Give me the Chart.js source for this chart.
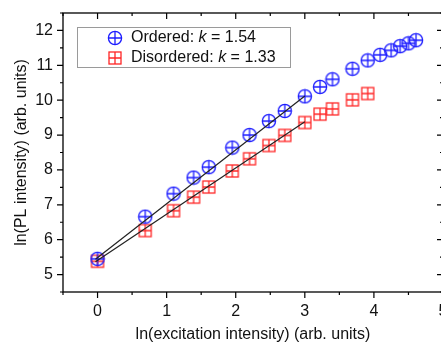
<!DOCTYPE html>
<html>
<head>
<meta charset="utf-8">
<script src="https://cdn.jsdelivr.net/npm/chart.js@4/dist/chart.umd.min.js"></script>
<style>
  html, body { margin:0; padding:0; background:#fff; }
  #wrap { width:441px; height:347px; overflow:hidden; position:relative; }
</style>
</head>
<body>
<div id="wrap"><canvas id="c" width="452" height="347" style="width:452px;height:347px"></canvas></div>
<script>
// ln(excitation) values
const orderedX = [0, 0.69, 1.10, 1.39, 1.61, 1.95, 2.20, 2.48, 2.71, 3.00, 3.22, 3.40, 3.69, 3.91, 4.09, 4.25, 4.38, 4.50, 4.61];
const orderedY = [5.45, 6.66, 7.32, 7.78, 8.08, 8.64, 9.00, 9.40, 9.69, 10.11, 10.38, 10.60, 10.90, 11.14, 11.30, 11.43, 11.55, 11.63, 11.72];
const disorderedX = [0, 0.69, 1.10, 1.39, 1.61, 1.95, 2.20, 2.48, 2.71, 3.00, 3.22, 3.40, 3.69, 3.91];
const disorderedY = [5.38, 6.26, 6.83, 7.22, 7.51, 7.97, 8.32, 8.70, 8.99, 9.36, 9.60, 9.75, 10.01, 10.19];

// fitted lines (end points)
const orderedFitX = [-0.03, 3.0];
const orderedFitY = [5.44, 10.12];
const disorderedFitX = [-0.03, 3.0];
const disorderedFitY = [5.37, 9.38];

const xTicks = [0, 1, 2, 3, 4, 5];
const xMinor = [-0.5, 0.5, 1.5, 2.5, 3.5, 4.5];
const yTicks = [5, 6, 7, 8, 9, 10, 11, 12];
const yMinor = [4.5, 5.5, 6.5, 7.5, 8.5, 9.5, 10.5, 11.5, 12.5];

const legendItems = [
  {name: "Ordered: ", k: "1.54", style: "circle"},
  {name: "Disordered: ", k: "1.33", style: "square"}
];

const FONT = "'Liberation Sans', Arial, sans-serif";
const BLUE = "#1c1cff", RED = "#ff2626";

function marker(style, color){
  const s = 16, c = document.createElement("canvas");
  c.width = s; c.height = s;
  const g = c.getContext("2d");
  g.strokeStyle = color; g.lineWidth = 1.3;
  if(style==="circle"){
    g.beginPath(); g.arc(8, 8, 6.6, 0, Math.PI*2); g.stroke();
    g.beginPath(); g.moveTo(1.4, 8); g.lineTo(14.6, 8); g.moveTo(8, 1.4); g.lineTo(8, 14.6); g.stroke();
  } else {
    g.strokeRect(2, 2, 12, 12);
    g.beginPath(); g.moveTo(2, 8); g.lineTo(14, 8); g.moveTo(8, 2); g.lineTo(8, 14); g.stroke();
  }
  return c;
}
const circleImg = marker("circle", BLUE);
const squareImg = marker("square", RED);

const pts = (xs, ys) => xs.map((x,i)=>({x:x, y:ys[i]}));

// box, ticks and legend
const framePlugin = {
  id: "frame",
  afterDraw(chart){
    const {ctx, chartArea:a, scales:{x, y}} = chart;
    ctx.save();
    ctx.strokeStyle = "#000"; ctx.lineWidth = 1.3;
    ctx.strokeRect(a.left, a.top, a.right-a.left, a.bottom-a.top);
    ctx.lineWidth = 1.2;
    ctx.beginPath();
    const tx = (v, len) => {
      const px = x.getPixelForValue(v);
      ctx.moveTo(px, a.bottom); ctx.lineTo(px, a.bottom+len);
      ctx.moveTo(px, a.top); ctx.lineTo(px, a.top+len);
    };
    const ty = (v, len) => {
      const py = y.getPixelForValue(v);
      ctx.moveTo(a.left, py); ctx.lineTo(a.left-len, py);
      ctx.moveTo(a.right, py); ctx.lineTo(a.right-len, py);
    };
    xTicks.forEach(v=>tx(v, 6)); xMinor.forEach(v=>tx(v, 3));
    yTicks.forEach(v=>ty(v, 6)); yMinor.forEach(v=>ty(v, 3));
    ctx.stroke();

    // legend
    const L = 77, T = 27, W = 213, H = 40;
    ctx.fillStyle = "#fff"; ctx.fillRect(L, T, W, H);
    ctx.strokeStyle = "#9a9a9a"; ctx.lineWidth = 1;
    ctx.strokeRect(L+0.5, T+0.5, W, H);
    legendItems.forEach((it, i)=>{
      const cy = T + 11 + i*20;
      ctx.drawImage(it.style==="circle"?circleImg:squareImg, 115-8, cy-8);
      ctx.fillStyle = "#111"; ctx.textBaseline = "middle"; ctx.textAlign = "left";
      let px = 131;
      ctx.font = "16px " + FONT; ctx.fillText(it.name, px, cy); px += ctx.measureText(it.name).width;
      ctx.font = "italic 16px " + FONT; ctx.fillText("k", px, cy); px += ctx.measureText("k").width;
      ctx.font = "16px " + FONT; ctx.fillText(" = " + it.k, px, cy);
    });
    ctx.restore();
  }
};

new Chart(document.getElementById("c"), {
  type: "scatter",
  data: {
    datasets: [
      {data: pts(orderedFitX, orderedFitY), showLine: true, borderColor: "#222", borderWidth: 1.2, pointRadius: 0, order: 0},
      {data: pts(disorderedFitX, disorderedFitY), showLine: true, borderColor: "#222", borderWidth: 1.2, pointRadius: 0, order: 0},
      {data: pts(orderedX, orderedY), pointStyle: circleImg, order: 1},
      {data: pts(disorderedX, disorderedY), pointStyle: squareImg, order: 1}
    ]
  },
  options: {
    responsive: false,
    devicePixelRatio: 1,
    animation: false,
    layout: {padding: {top: 13, right: 9, left: 0, bottom: 0}},
    plugins: {legend: {display: false}, tooltip: {enabled: false}},
    scales: {
      x: {
        type: "linear", min: -0.5, max: 5,
        afterBuildTicks: s => { s.ticks = xTicks.map(v=>({value:v})); },
        afterFit: s => { s.height = 55; s.paddingLeft = 0; s.paddingRight = 0; },
        grid: {display: false, drawTicks: false},
        border: {display: false},
        ticks: {padding: 10, color: "#111", font: {family: FONT, size: 16}},
        title: {display: true, text: "ln(excitation intensity) (arb. units)", color: "#111",
                font: {family: FONT, size: 16}, padding: {top: 0, bottom: 3}}
      },
      y: {
        type: "linear", min: 4.5, max: 12.5,
        afterBuildTicks: s => { s.ticks = yTicks.map(v=>({value:v})); },
        afterFit: s => { s.width = 63; s.paddingTop = 0; s.paddingBottom = 0; },
        grid: {display: false, drawTicks: false},
        border: {display: false},
        ticks: {padding: 10, color: "#111", font: {family: FONT, size: 16}},
        title: {display: true, text: "ln(PL intensity) (arb. units)", color: "#111",
                font: {family: FONT, size: 16}, padding: {top: 12, bottom: 0}}
      }
    }
  },
  plugins: [framePlugin]
});
</script>
</body>
</html>
